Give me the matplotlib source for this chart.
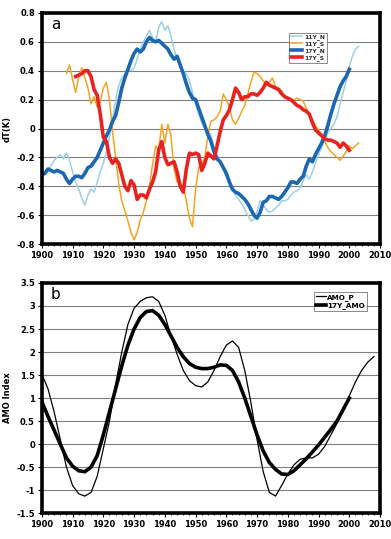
import matplotlib
matplotlib.use('Agg')
import matplotlib.pyplot as plt
import numpy as np

# ---- panel a: dT(K) ----
YEARS_17N = list(range(1900, 2001))
N17 = [-0.32, -0.31, -0.28, -0.29, -0.30, -0.29, -0.30, -0.31, -0.35, -0.38,
       -0.35, -0.33, -0.33, -0.34, -0.31, -0.27, -0.26, -0.23, -0.20, -0.15,
       -0.10, -0.05, -0.01, 0.05, 0.09, 0.18, 0.28, 0.35, 0.41, 0.47,
       0.52, 0.55, 0.53, 0.55, 0.60, 0.63, 0.61, 0.60, 0.61, 0.59,
       0.57, 0.55, 0.51, 0.48, 0.50, 0.44, 0.38, 0.31, 0.25, 0.21,
       0.20, 0.14, 0.08, 0.02, -0.04, -0.09, -0.16, -0.21, -0.23, -0.27,
       -0.31, -0.37, -0.42, -0.44, -0.45, -0.47, -0.49, -0.52, -0.56, -0.60,
       -0.62, -0.58, -0.51, -0.50, -0.47, -0.47, -0.48, -0.49, -0.47, -0.44,
       -0.41, -0.37, -0.37, -0.38, -0.35, -0.33, -0.26, -0.21, -0.23, -0.18,
       -0.14, -0.10, -0.05, 0.02, 0.10, 0.17, 0.23, 0.29, 0.33, 0.36,
       0.41]

YEARS_11N = list(range(1900, 2004))
N11 = [-0.33, -0.30, -0.28, -0.26, -0.22, -0.20, -0.18, -0.21, -0.17, -0.22,
       -0.30, -0.37, -0.42, -0.48, -0.53, -0.46, -0.42, -0.44, -0.37, -0.30,
       -0.24, -0.16, -0.06, 0.06, 0.20, 0.30, 0.35, 0.38, 0.41, 0.40,
       0.42, 0.48, 0.55, 0.60, 0.64, 0.68, 0.63, 0.60, 0.70, 0.74,
       0.68, 0.71, 0.64, 0.55, 0.48, 0.43, 0.40, 0.38, 0.33, 0.25,
       0.17, 0.10, 0.04, 0.00, -0.02, -0.04, -0.13, -0.19, -0.23, -0.28,
       -0.33, -0.37, -0.42, -0.46, -0.49, -0.52, -0.56, -0.60, -0.64, -0.63,
       -0.57, -0.50, -0.53, -0.56, -0.58, -0.57, -0.55, -0.53, -0.50, -0.50,
       -0.49, -0.46, -0.44, -0.43, -0.41, -0.36, -0.32, -0.35, -0.30, -0.24,
       -0.18, -0.13, -0.08, -0.03, 0.00, 0.03, 0.08, 0.17, 0.25, 0.33,
       0.43, 0.50, 0.55, 0.57]

YEARS_11S = list(range(1908, 2004))
S11 = [0.38, 0.44, 0.34, 0.25, 0.36, 0.42, 0.35, 0.28, 0.17, 0.22,
       0.15, 0.18, 0.28, 0.32, 0.20, -0.02, -0.20, -0.38, -0.50, -0.57,
       -0.64, -0.72, -0.77, -0.72, -0.63, -0.58, -0.50, -0.40, -0.25, -0.12,
       -0.15, 0.03, -0.10, 0.03, -0.05, -0.28, -0.37, -0.38, -0.40, -0.50,
       -0.62, -0.68, -0.42, -0.27, -0.25, -0.20, -0.05, 0.05, 0.06, 0.08,
       0.12, 0.24, 0.20, 0.15, 0.06, 0.03, 0.07, 0.12, 0.16, 0.24,
       0.32, 0.39, 0.38, 0.36, 0.33, 0.30, 0.32, 0.35, 0.29, 0.28,
       0.26, 0.22, 0.21, 0.19, 0.20, 0.21, 0.20, 0.19, 0.14, 0.09,
       0.06, 0.02, -0.01, -0.04, -0.09, -0.13, -0.16, -0.18, -0.20, -0.22,
       -0.19, -0.16, -0.12, -0.14, -0.12, -0.10]

YEARS_17S = list(range(1911, 2001))
S17 = [0.36, 0.37, 0.38, 0.40, 0.40, 0.36, 0.27, 0.23, 0.10,
       -0.06, -0.09, -0.20, -0.24, -0.21, -0.24, -0.32, -0.40, -0.43, -0.36,
       -0.39, -0.49, -0.46, -0.46, -0.48, -0.42, -0.37, -0.30, -0.15, -0.09,
       -0.20, -0.25, -0.24, -0.23, -0.30, -0.40, -0.44, -0.28, -0.17, -0.18,
       -0.17, -0.18, -0.29, -0.24, -0.17, -0.19, -0.21, -0.12, -0.02, 0.06,
       0.09, 0.13, 0.20, 0.28, 0.25, 0.20, 0.22, 0.22, 0.24, 0.24,
       0.23, 0.25, 0.28, 0.32, 0.30, 0.29, 0.28, 0.27, 0.24, 0.22,
       0.21, 0.20, 0.18, 0.16, 0.15, 0.13, 0.12, 0.10, 0.04, -0.01,
       -0.03, -0.05, -0.07, -0.08, -0.08, -0.09, -0.10, -0.13, -0.10, -0.12,
       -0.15]

# ---- panel b: AMO index ----
YEARS_AMO_P = list(range(1900, 2009, 2))
AMO_P = [1.52, 1.20, 0.70, 0.10, -0.50, -0.90, -1.08, -1.13, -1.05, -0.70,
         -0.10, 0.50, 1.30, 2.00, 2.60, 2.95, 3.10, 3.18, 3.20, 3.10,
         2.80, 2.35, 1.95, 1.60, 1.38, 1.27, 1.24, 1.35, 1.60, 1.90,
         2.15, 2.24, 2.10, 1.60, 0.90, 0.10, -0.60, -1.05, -1.13, -0.90,
         -0.65, -0.45, -0.33, -0.30, -0.30, -0.22, -0.05, 0.20, 0.45, 0.75,
         1.05, 1.35, 1.60, 1.78, 1.90]

YEARS_AMO17 = list(range(1900, 2001, 2))
AMO17 = [0.92, 0.60, 0.30, 0.00, -0.30, -0.48, -0.58, -0.60, -0.50, -0.25,
         0.20, 0.70, 1.20, 1.70, 2.15, 2.50, 2.75, 2.88, 2.90, 2.80,
         2.60, 2.35, 2.10, 1.90, 1.75, 1.67, 1.64, 1.64, 1.67, 1.72,
         1.71, 1.60, 1.35, 1.00, 0.60, 0.20, -0.15, -0.40, -0.55, -0.65,
         -0.66, -0.58, -0.45, -0.32, -0.17, -0.02, 0.15, 0.32, 0.50, 0.75,
         1.00]

XTICKS = list(range(1900, 2011, 10))


def style_axes(ax, ylim, ystep, ylabel):
    ax.set_xlim(1900, 2010)
    ax.set_ylim(*ylim)
    ax.set_xticks(XTICKS)
    ax.set_xticks(range(1900, 2011, 2), minor=True)
    yt = np.arange(ylim[0], ylim[1] + ystep / 2, ystep)
    ax.set_yticks(yt)
    ax.yaxis.grid(True, color='#7f7f7f', linewidth=0.8)
    ax.set_axisbelow(True)
    for s in ax.spines.values():
        s.set_linewidth(2.6)
        s.set_color('black')
    ax.tick_params(axis='both', which='major', direction='out', length=3,
                   width=0.8, labelsize=6, pad=2)
    ax.tick_params(axis='x', which='minor', direction='out', length=1.5,
                   width=0.6)
    for lbl in ax.get_xticklabels() + ax.get_yticklabels():
        lbl.set_fontweight('bold')
    ax.set_ylabel(ylabel, fontsize=6, fontweight='bold')
    ax.yaxis.set_label_coords(-0.088, 0.5)


fig = plt.figure(figsize=(3.91, 5.39), dpi=100, facecolor='white')

# panel a
ax1 = fig.add_axes([0.107, 0.547, 0.865, 0.429])
ax1.plot(YEARS_11N, N11, color='#9dcfe8', lw=1.1, label='11Y_N')
ax1.plot(YEARS_11S, S11, color='#f2a422', lw=1.1, label='11Y_S')
ax1.plot(YEARS_17N, N17, color='#1b67b2', lw=2.6, label='17Y_N')
ax1.plot(YEARS_17S, S17, color='#e8231f', lw=2.6, label='17Y_S')
style_axes(ax1, (-0.8, 0.8), 0.2, 'dT(K)')
ax1.set_yticklabels(['-0.8', '-0.6', '-0.4', '-0.2', '0', '0.2', '0.4',
                     '0.6', '0.8'], fontweight='bold')
ax1.text(0.04, 0.95, 'a', transform=ax1.transAxes, fontsize=11,
         ha='center', va='center')
leg1 = ax1.legend(loc='upper left', bbox_to_anchor=(0.73, 0.915),
                  fontsize=4.3, frameon=True, fancybox=False,
                  handlelength=2.0, handletextpad=0.3, borderpad=0.3,
                  labelspacing=0.15, borderaxespad=0)
leg1.get_frame().set_edgecolor('#555555')
leg1.get_frame().set_linewidth(0.6)
for t in leg1.get_texts():
    t.set_fontweight('bold')
    t.set_color('#333333')

# panel b
ax2 = fig.add_axes([0.107, 0.048, 0.865, 0.427])
ax2.plot(YEARS_AMO_P, AMO_P, color='black', lw=0.9, label='AMO_P')
ax2.plot(YEARS_AMO17, AMO17, color='black', lw=2.6, label='17Y_AMO')
style_axes(ax2, (-1.5, 3.5), 0.5, 'AMO Index')
ax2.set_yticklabels(['-1.5', '-1', '-0.5', '0', '0.5', '1', '1.5', '2',
                     '2.5', '3', '3.5'], fontweight='bold')
ax2.text(0.04, 0.95, 'b', transform=ax2.transAxes, fontsize=11,
         ha='center', va='center')
leg2 = ax2.legend(loc='upper left', bbox_to_anchor=(0.805, 0.962),
                  fontsize=5.2, frameon=True, fancybox=False,
                  handlelength=1.3, handletextpad=0.2, borderpad=0.3,
                  labelspacing=0.2, borderaxespad=0)
leg2.get_frame().set_edgecolor('#555555')
leg2.get_frame().set_linewidth(0.6)
for t in leg2.get_texts():
    t.set_fontweight('bold')

fig.savefig('out.png', dpi=100, facecolor='white')
